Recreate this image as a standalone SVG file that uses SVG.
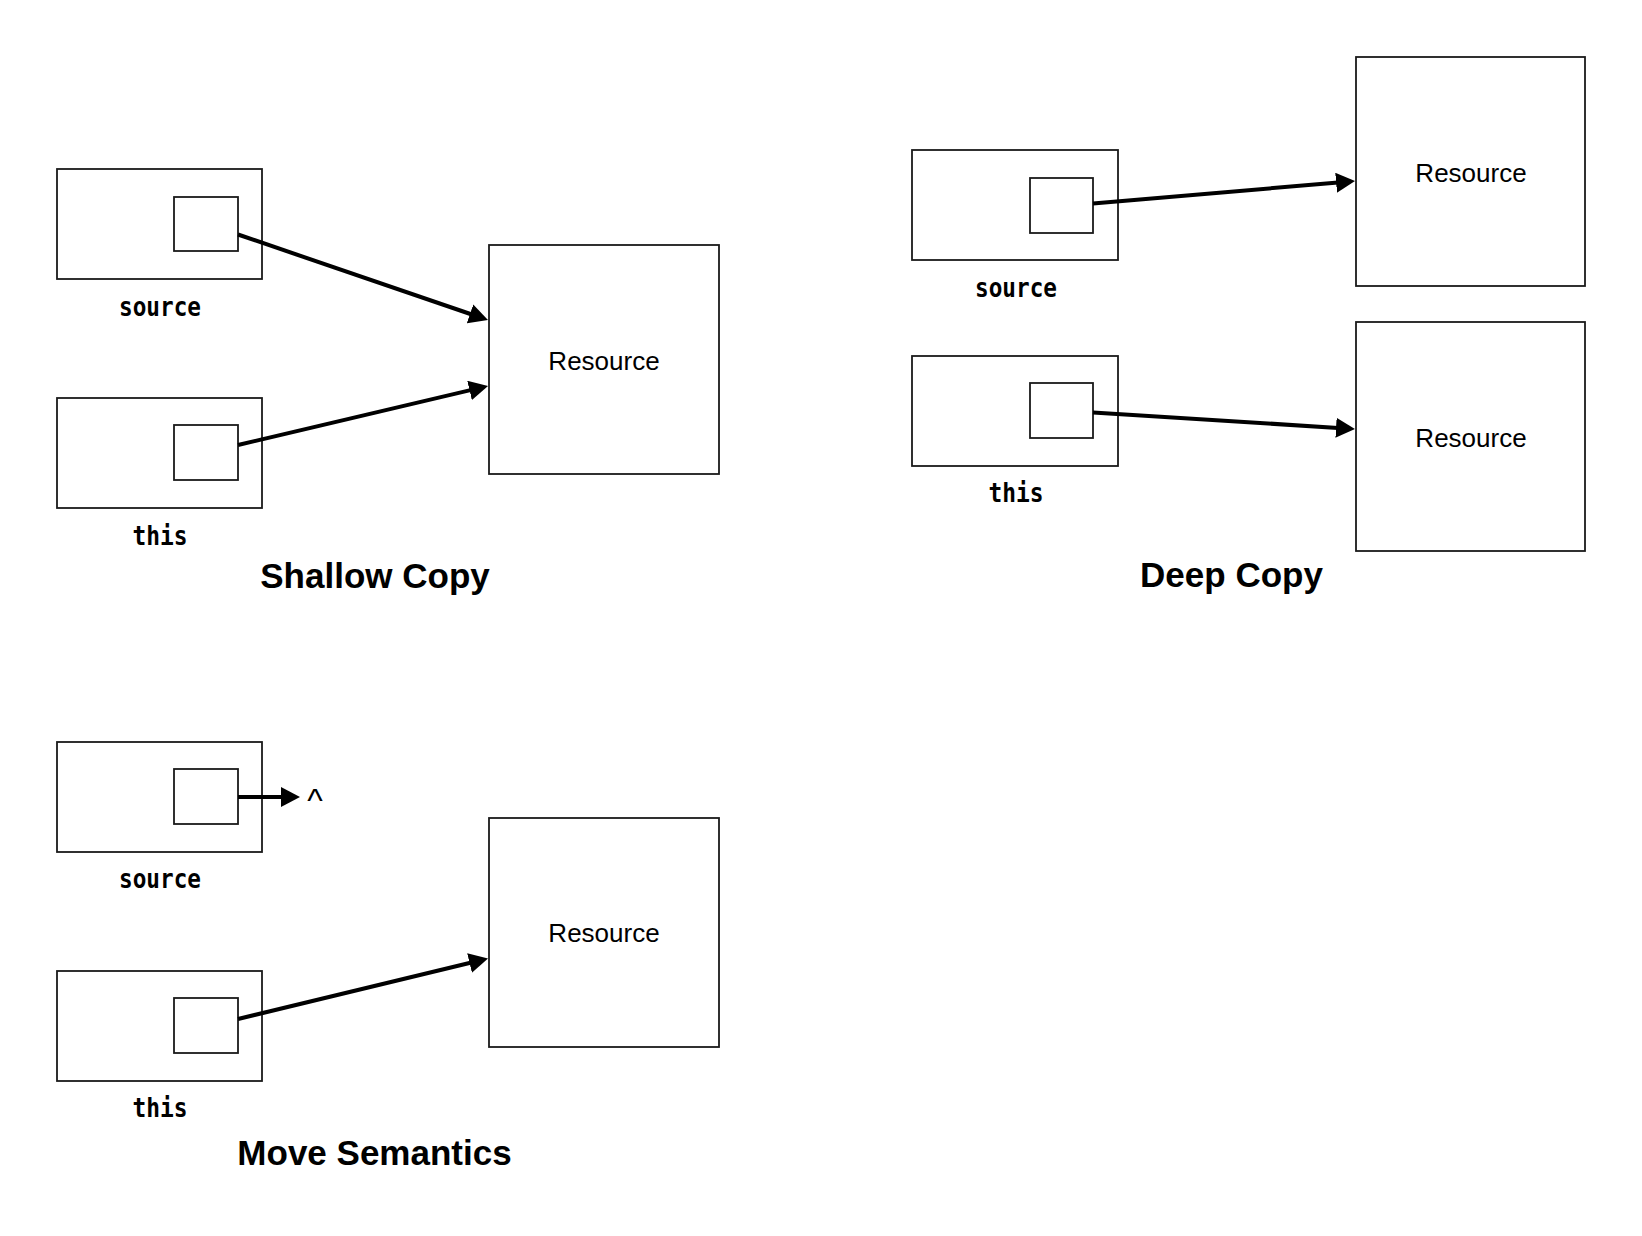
<svg xmlns="http://www.w3.org/2000/svg" width="1642" height="1236" viewBox="0 0 1642 1236">
<style>
.box{fill:#fff;stroke:#1a1a1a;stroke-width:1.8}
.lbl{font-family:"DejaVu Sans Mono","Liberation Mono",monospace;font-weight:bold;font-size:27px;fill:#000;text-anchor:middle}
.res{font-family:"Liberation Sans",Arial,sans-serif;font-size:26px;fill:#000;text-anchor:middle}
.ttl{font-family:"Liberation Sans",Arial,sans-serif;font-weight:bold;font-size:35px;fill:#000;text-anchor:middle}
.con{stroke:#000;stroke-width:4;fill:none;marker-end:url(#ah)}
</style>
<defs>
<marker id="ah" markerUnits="userSpaceOnUse" markerWidth="20" markerHeight="20" viewBox="0 0 20 20" refX="2" refY="10" orient="auto">
<path d="M0,0 L19,10 L0,20 z" fill="#000"/>
</marker>
</defs>
<rect width="1642" height="1236" fill="#fff"/>

<g id="shallow-source">
<rect class="box" x="57" y="169" width="205" height="110"/>
<rect class="box" x="174" y="197" width="64" height="54"/>
<text class="lbl" x="160" y="315.5" textLength="82" lengthAdjust="spacingAndGlyphs">source</text>
</g>
<g id="shallow-this">
<rect class="box" x="57" y="398" width="205" height="110"/>
<rect class="box" x="174" y="425" width="64" height="55"/>
<text class="lbl" x="160" y="545" textLength="55" lengthAdjust="spacingAndGlyphs">this</text>
</g>
<g id="shallow-resource">
<rect class="box" x="489" y="245" width="230" height="229"/>
<text class="res" x="604" y="370">Resource</text>
</g>
<text class="ttl" x="375" y="588">Shallow Copy</text>

<g id="deep-source">
<rect class="box" x="912" y="150" width="206" height="110"/>
<rect class="box" x="1030" y="178" width="63" height="55"/>
<text class="lbl" x="1016" y="297" textLength="82" lengthAdjust="spacingAndGlyphs">source</text>
</g>
<g id="deep-this">
<rect class="box" x="912" y="356" width="206" height="110"/>
<rect class="box" x="1030" y="383" width="63" height="55"/>
<text class="lbl" x="1016" y="502" textLength="55" lengthAdjust="spacingAndGlyphs">this</text>
</g>
<g id="deep-resource-1">
<rect class="box" x="1356" y="57" width="229" height="229"/>
<text class="res" x="1471" y="182">Resource</text>
</g>
<g id="deep-resource-2">
<rect class="box" x="1356" y="322" width="229" height="229"/>
<text class="res" x="1471" y="446.5">Resource</text>
</g>
<text class="ttl" x="1231.5" y="587">Deep Copy</text>

<g id="move-source">
<rect class="box" x="57" y="742" width="205" height="110"/>
<rect class="box" x="174" y="769" width="64" height="55"/>
<text class="lbl" x="160" y="888" textLength="82" lengthAdjust="spacingAndGlyphs">source</text>
</g>
<g id="move-null">
<text class="res" x="315" y="812" style="font-size:33px">^</text>
</g>
<g id="move-this">
<rect class="box" x="57" y="971" width="205" height="110"/>
<rect class="box" x="174" y="998" width="64" height="55"/>
<text class="lbl" x="160" y="1117" textLength="55" lengthAdjust="spacingAndGlyphs">this</text>
</g>
<g id="move-resource">
<rect class="box" x="489" y="818" width="230" height="229"/>
<text class="res" x="604" y="942">Resource</text>
</g>
<text class="ttl" x="374.5" y="1165">Move Semantics</text>

<g id="connectors">
<line class="con" x1="238" y1="234.5" x2="471.9" y2="314.5"/>
<line class="con" x1="238" y1="445" x2="471.5" y2="389.9"/>
<line class="con" x1="1093" y1="203.5" x2="1338.1" y2="182.5"/>
<line class="con" x1="1093" y1="412.5" x2="1338" y2="427.9"/>
<line class="con" x1="238" y1="797" x2="283" y2="797"/>
<line class="con" x1="238" y1="1019" x2="471.5" y2="962.5"/>
</g>
</svg>
